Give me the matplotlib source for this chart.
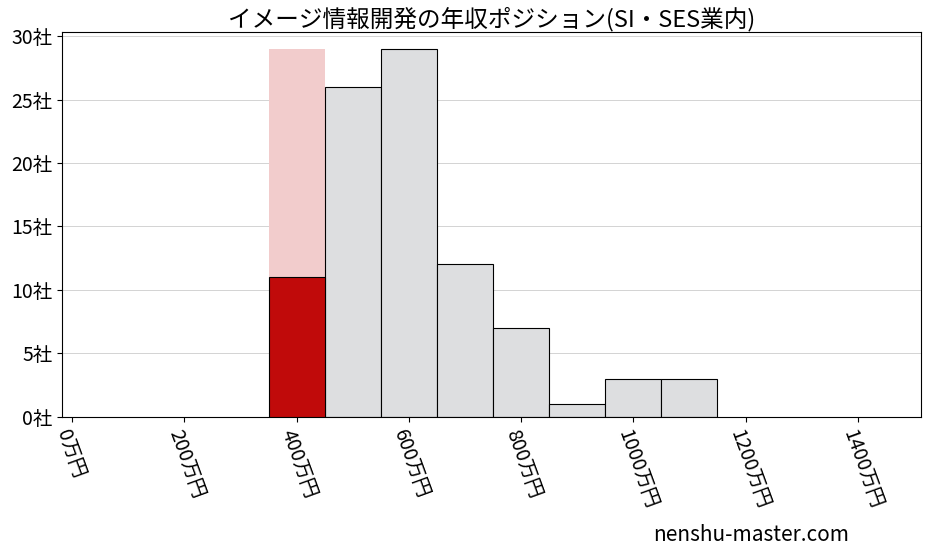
import matplotlib
matplotlib.use("Agg")
import matplotlib.pyplot as plt

plt.rcParams['font.family'] = ['Noto Sans CJK JP', 'DejaVu Sans']

bin_left = [350, 450, 550, 650, 750, 850, 950, 1050]
counts = [29, 26, 29, 12, 7, 1, 3, 3]
highlight_left = 350
highlight_count = 11
xticks = [0, 200, 400, 600, 800, 1000, 1200, 1400]
yticks = [0, 5, 10, 15, 20, 25, 30]

fig = plt.figure(figsize=(9.28, 5.57), dpi=100)
ax = fig.add_axes([0.067, 0.252, 0.925, 0.69])
for l, c in zip(bin_left, counts):
    if l == highlight_left:
        ax.bar(l, c, width=100, align='edge', color='#f2cccc', edgecolor='none', zorder=2)
        ax.bar(l, highlight_count, width=100, align='edge', color='#c00a0a', edgecolor='black', linewidth=0.8, zorder=3)
    else:
        ax.bar(l, c, width=100, align='edge', color='#dddee0', edgecolor='black', linewidth=0.8, zorder=2)
ax.set_xlim(-18, 1512)
ax.set_ylim(0, 30.3)
ax.set_xticks(xticks)
ax.set_xticklabels([f"{v}万円" for v in xticks], rotation=-70, ha='left', va='top', fontsize=14, rotation_mode='anchor')
ax.set_yticks(yticks)
ax.set_yticklabels([f"{v}社" for v in yticks], fontsize=14)
ax.grid(axis='y', color='#cccccc', linewidth=0.6, zorder=0)
ax.set_axisbelow(True)
ax.set_title("イメージ情報開発の年収ポジション(SI・SES業内)", fontsize=17, pad=4)
fig.text(0.915, 0.02, "nenshu-master.com", ha='right', va='bottom', fontsize=15)
fig.savefig("out.png")
